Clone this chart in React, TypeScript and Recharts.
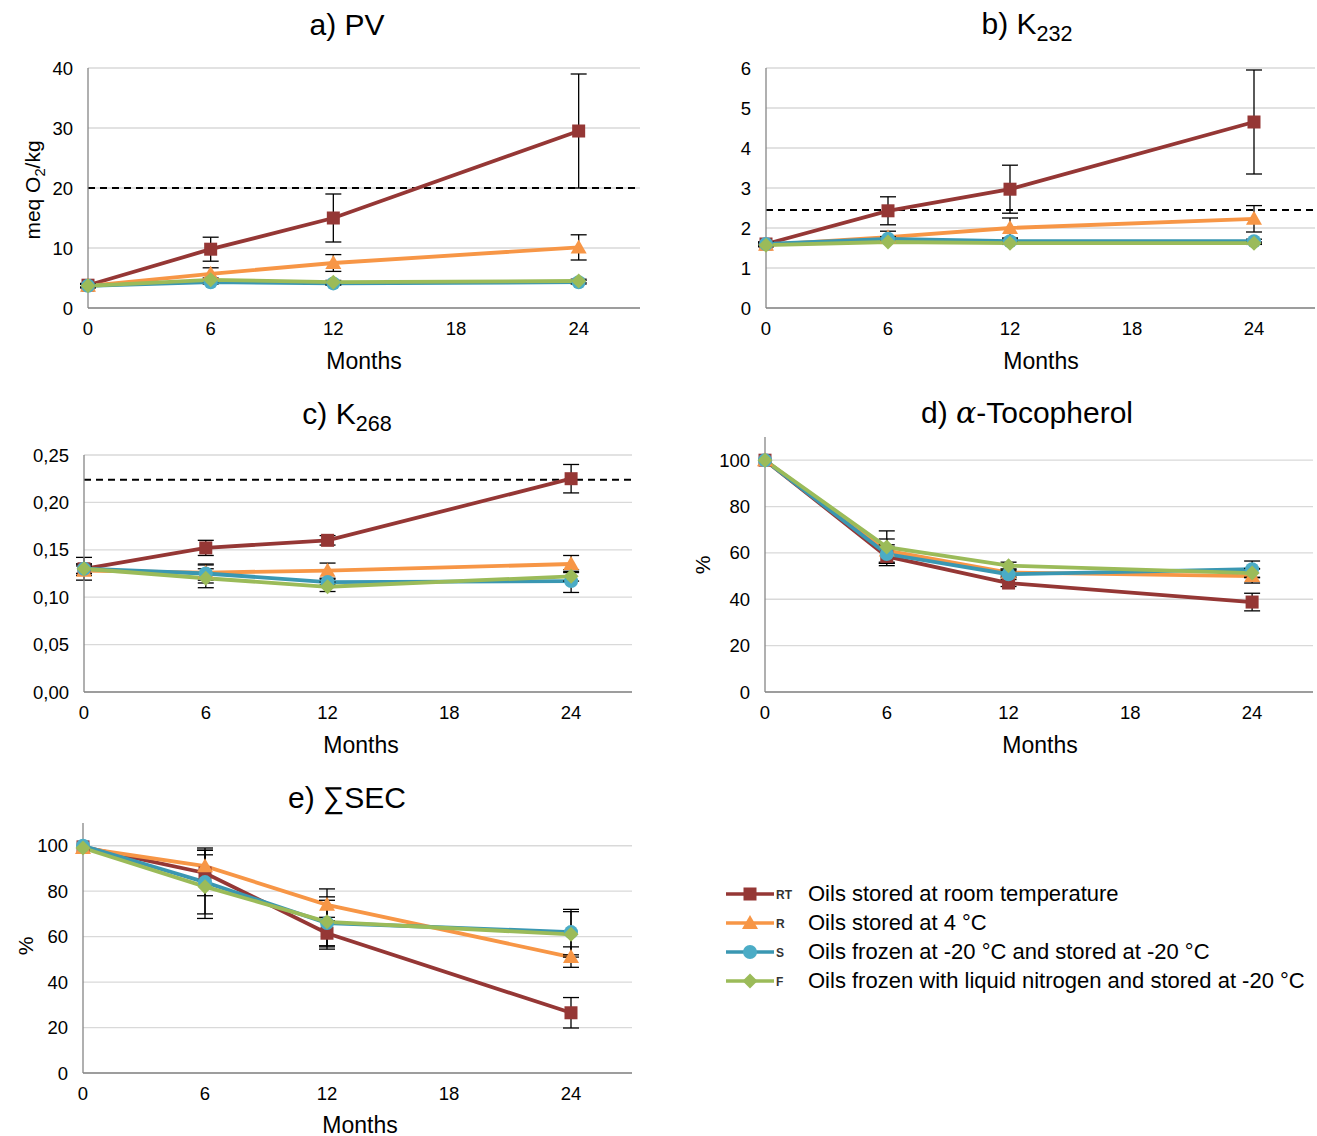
import { LineChart, Line, XAxis, YAxis, CartesianGrid, ErrorBar, ReferenceLine } from 'recharts';

const months = [0, 6, 12, 24];
const xTicks = [0, 6, 12, 18, 24];

// a) PV
const pvRT = [3.8, 9.8, 15, 29.5];
const pvRTErr = [0.3, 2.0, 4.0, 9.5];
const pvR = [3.7, 5.7, 7.5, 10.1];
const pvRErr = [0.3, 1.0, 1.4, 2.1];
const pvS = [3.7, 4.3, 4.1, 4.3];
const pvSErr = [0.3, 0.3, 0.3, 0.3];
const pvF = [3.7, 4.7, 4.3, 4.5];
const pvFErr = [0.3, 0.3, 0.3, 0.3];

// b) K232
const k232RT = [1.6, 2.43, 2.97, 4.65];
const k232RTErr = [0.05, 0.35, 0.6, 1.3];
const k232R = [1.58, 1.77, 2.0, 2.23];
const k232RErr = [0.05, 0.15, 0.25, 0.33];
const k232S = [1.6, 1.73, 1.67, 1.67];
const k232SErr = [0.05, 0.05, 0.05, 0.05];
const k232F = [1.57, 1.65, 1.62, 1.62];
const k232FErr = [0.03, 0.03, 0.03, 0.03];

// c) K268
const k268RT = [0.13, 0.152, 0.16, 0.225];
const k268RTErr = [0.012, 0.008, 0.005, 0.015];
const k268R = [0.128, 0.126, 0.128, 0.135];
const k268RErr = [0.005, 0.008, 0.008, 0.009];
const k268S = [0.13, 0.125, 0.116, 0.117];
const k268SErr = [0.005, 0.01, 0.003, 0.012];
const k268F = [0.13, 0.12, 0.111, 0.122];
const k268FErr = [0.005, 0.01, 0.005, 0.005];

// d) alpha-tocopherol
const tocRT = [100, 58.5, 47, 38.8];
const tocRTErr = [0, 4, 1.5, 3.8];
const tocR = [100, 61, 51.5, 50];
const tocRErr = [0, 5, 1.5, 3];
const tocS = [100, 59.5, 50.8, 53];
const tocSErr = [0, 4, 1.5, 3.5];
const tocF = [100, 62.5, 54.5, 51.3];
const tocFErr = [0, 7, 1.5, 2];

// e) sum SEC
const secRT = [99.5, 88, 61.5, 26.5];
const secRTErr = [0, 10, 7, 6.7];
const secR = [99, 91, 74, 51];
const secRErr = [0, 8, 7, 4.5];
const secS = [100, 84, 66, 62];
const secSErr = [0, 14, 10, 10];
const secF = [99, 82, 66.5, 61];
const secFErr = [0, 14, 11, 10];

const seriesKeys = ['RT', 'R', 'S', 'F'];
const legendLabels = [
  'Oils stored at room temperature',
  'Oils stored at 4 °C',
  'Oils frozen at -20 °C and stored at -20 °C',
  'Oils frozen with liquid nitrogen and stored at -20 °C',
];
const colors: Record<string, string> = { RT: '#953735', R: '#F79646', S: '#3A97B2', F: '#9BBB59' };

const font = '"Liberation Sans", Arial, sans-serif';

function buildRows(vals: number[][], errs: number[][]) {
  return months.map((m, i) => {
    const row: any = { month: m };
    seriesKeys.forEach((k, j) => {
      row[k] = vals[j][i];
      row[k + 'err'] = errs[j][i];
    });
    return row;
  });
}

const Marker = ({ cx, cy, kind }: any) => {
  if (cx == null || cy == null) return null;
  const c = colors[kind];
  if (kind === 'RT') return <rect x={cx - 6.5} y={cy - 6.5} width={13} height={13} fill={c} />;
  if (kind === 'R')
    return <polygon points={`${cx},${cy - 8} ${cx + 8},${cy + 6} ${cx - 8},${cy + 6}`} fill={c} />;
  if (kind === 'S') return <circle cx={cx} cy={cy} r={7} fill="#4BACC6" />;
  return <polygon points={`${cx},${cy - 7.5} ${cx + 7.5},${cy} ${cx},${cy + 7.5} ${cx - 7.5},${cy}`} fill={c} />;
};

type PanelProps = {
  plotLeft: number;
  plotTop: number;
  plotW: number;
  plotH: number;
  data: any[];
  yDomain: number[];
  yTicks: number[];
  fmt?: (v: number) => string;
  refY?: number;
};

const Panel = ({ plotLeft, plotTop, plotW, plotH, data, yDomain, yTicks, fmt, refY }: PanelProps) => {
  const yW = 80;
  const W = yW + plotW + 10;
  const H = 10 + plotH + 34;
  return (
    <div style={{ position: 'absolute', left: plotLeft - yW, top: plotTop - 10 }}>
      <LineChart width={W} height={H} data={data} margin={{ top: 10, right: 10, bottom: 0, left: 0 }}>
        <CartesianGrid vertical={false} horizontalValues={yTicks} stroke="#d9d9d9" strokeWidth={1.3} />
        <XAxis
          type="number"
          dataKey="month"
          domain={[0, 27]}
          ticks={xTicks}
          height={34}
          tickLine={false}
          tickSize={0}
          tickMargin={14}
          axisLine={{ stroke: '#868686', strokeWidth: 1.3 }}
          tick={{ fill: '#000', fontSize: 18.5, fontFamily: font }}
        />
        <YAxis
          width={yW}
          domain={yDomain}
          ticks={yTicks}
          tickLine={false}
          tickSize={0}
          tickMargin={15}
          tickFormatter={fmt}
          axisLine={{ stroke: '#868686', strokeWidth: 1.3 }}
          tick={{ fill: '#000', fontSize: 18.5, fontFamily: font }}
        />
        {refY !== undefined && (
          <ReferenceLine y={refY} stroke="#000" strokeWidth={2} strokeDasharray="7 5" />
        )}
        {seriesKeys.map((k) => (
          <Line
            key={k}
            type="linear"
            dataKey={k}
            stroke={colors[k]}
            strokeWidth={3.8}
            isAnimationActive={false}
            dot={(p: any) => <Marker key={k + p.index} cx={p.cx} cy={p.cy} kind={k} />}
            activeDot={false}
          >
            <ErrorBar dataKey={k + 'err'} direction="y" width={8} stroke="#000" strokeWidth={1.3} />
          </Line>
        ))}
      </LineChart>
    </div>
  );
};

const Text = ({ x, y, size, children, rotate }: any) => (
  <div
    style={{
      position: 'absolute',
      left: x,
      top: y,
      transform: `translate(-50%, -50%)${rotate ? ' rotate(-90deg)' : ''}`,
      fontFamily: font,
      fontSize: size,
      whiteSpace: 'nowrap',
      color: '#000',
      lineHeight: 1,
    }}
  >
    {children}
  </div>
);

const LegendIcon = ({ kind }: { kind: string }) => {
  const c = colors[kind];
  return (
    <svg width={76} height={20} style={{ display: 'block' }}>
      <line x1={2} y1={10} x2={50} y2={10} stroke={c} strokeWidth={3.5} />
      <Marker cx={26} cy={10} kind={kind} />
      <text x={52} y={15} fontSize={12} fontWeight="bold" fontFamily={font} fill="#333">
        {kind}
      </text>
    </svg>
  );
};

const pct = [0, 20, 40, 60, 80, 100];

const App = () => {
  const pvData = buildRows([pvRT, pvR, pvS, pvF], [pvRTErr, pvRErr, pvSErr, pvFErr]);
  const k232Data = buildRows([k232RT, k232R, k232S, k232F], [k232RTErr, k232RErr, k232SErr, k232FErr]);
  const k268Data = buildRows([k268RT, k268R, k268S, k268F], [k268RTErr, k268RErr, k268SErr, k268FErr]);
  const tocData = buildRows([tocRT, tocR, tocS, tocF], [tocRTErr, tocRErr, tocSErr, tocFErr]);
  const secData = buildRows([secRT, secR, secS, secF], [secRTErr, secRErr, secSErr, secFErr]);
  const sub = { fontSize: '0.72em', verticalAlign: '-0.3em' };

  return (
    <div style={{ position: 'absolute', left: 0, top: 0, width: 1317, height: 1136, background: '#fff' }}>
      <Panel plotLeft={88} plotTop={68} plotW={552} plotH={240} data={pvData} yDomain={[0, 40]} yTicks={[0, 10, 20, 30, 40]} refY={20} />
      <Panel plotLeft={766} plotTop={68} plotW={549} plotH={240} data={k232Data} yDomain={[0, 6]} yTicks={[0, 1, 2, 3, 4, 5, 6]} refY={2.45} />
      <Panel
        plotLeft={84}
        plotTop={455}
        plotW={548}
        plotH={237}
        data={k268Data}
        yDomain={[0, 0.25]}
        yTicks={[0, 0.05, 0.1, 0.15, 0.2, 0.25]}
        fmt={(v: number) => v.toFixed(2).replace('.', ',')}
        refY={0.224}
      />
      <Panel plotLeft={765} plotTop={437} plotW={548} plotH={255} data={tocData} yDomain={[0, 110]} yTicks={pct} />
      <Panel plotLeft={83} plotTop={823} plotW={549} plotH={250} data={secData} yDomain={[0, 110]} yTicks={pct} />

      <Text x={347} y={25} size={30}>a) PV</Text>
      <Text x={1027} y={27} size={30}>
        b) K<span style={sub}>232</span>
      </Text>
      <Text x={347} y={417} size={30}>
        c) K<span style={sub}>268</span>
      </Text>
      <Text x={1027} y={413} size={30}>
        d) <i style={{ fontFamily: '"DejaVu Serif", serif' }}>α</i>-Tocopherol
      </Text>
      <Text x={347} y={798} size={30}>e) ∑SEC</Text>

      <Text x={364} y={361} size={23}>Months</Text>
      <Text x={1041} y={361} size={23}>Months</Text>
      <Text x={361} y={745} size={23}>Months</Text>
      <Text x={1040} y={745} size={23}>Months</Text>
      <Text x={360} y={1125} size={23}>Months</Text>

      <Text x={35} y={190} size={21} rotate>
        meq O<span style={{ fontSize: '0.7em', verticalAlign: '-0.3em' }}>2</span>/kg
      </Text>
      <Text x={702} y={565} size={21} rotate>%</Text>
      <Text x={25} y={946} size={21} rotate>%</Text>

      <div style={{ position: 'absolute', left: 724, top: 879 }}>
        {seriesKeys.map((k, i) => (
          <div key={k} style={{ display: 'flex', alignItems: 'center', height: 29 }}>
            <LegendIcon kind={k} />
            <span style={{ fontFamily: font, fontSize: 22, marginLeft: 8 }}>{legendLabels[i]}</span>
          </div>
        ))}
      </div>
    </div>
  );
};

export default App;
